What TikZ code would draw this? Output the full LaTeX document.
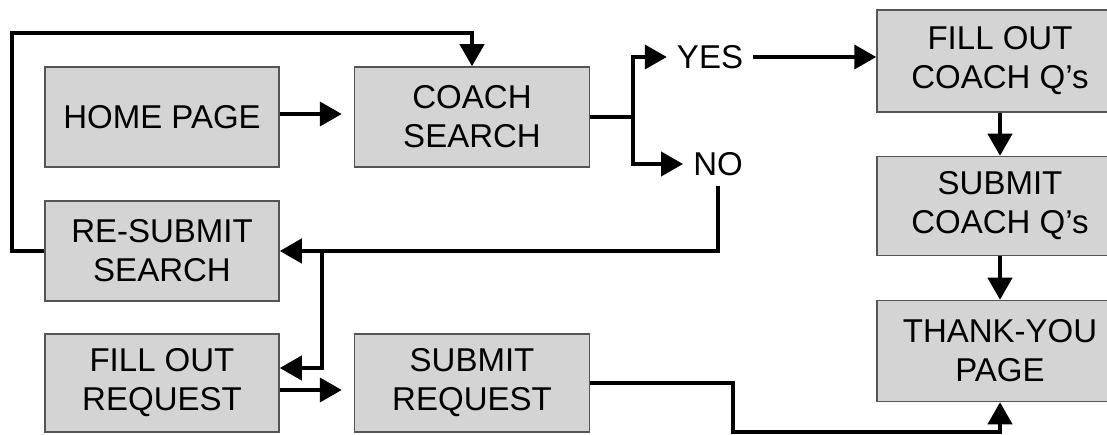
\documentclass[tikz,border=0pt]{standalone}
\usepackage{fontspec}
\setmainfont{Liberation Sans}
\usetikzlibrary{arrows.meta}
\definecolor{boxgray}{RGB}{212,212,212}
\definecolor{edgegray}{RGB}{85,85,85}
\begin{document}
\begin{tikzpicture}[x=1pt,y=-1pt,
  page/.style={draw=edgegray,line width=1.5pt,fill=boxgray,minimum height=100pt,
    inner sep=0pt,align=center,font=\fontsize{33}{39}\selectfont},
  answer/.style={inner sep=10pt,font=\fontsize{33}{39}\selectfont},
  wire/.style={line width=4pt},
  flow/.style={line width=4pt,-{Triangle[length=22pt,width=24pt]}}]
  \useasboundingbox (0,0) rectangle (1107,435);
  % pages of the site
  \node (home_page)       at (162,117)  [page,minimum width=234pt] {HOME PAGE};
  \node (coach_search)    at (472,117)  [page,minimum width=235pt] {COACH\\SEARCH};
  \node (resubmit_search) at (162,251)  [page,minimum width=234pt] {RE-SUBMIT\\SEARCH};
  \node (fill_request)    at (162,383)  [page,minimum width=234pt,minimum height=98pt] {FILL OUT\\REQUEST};
  \node (submit_request)  at (472,383)  [page,minimum width=235pt,minimum height=98pt] {SUBMIT\\REQUEST};
  \node (fill_coach)      at (1000,61)  [page,minimum width=246pt,minimum height=102pt] {FILL OUT\\COACH Q’s};
  \node (submit_coach)    at (1000,206) [page,minimum width=246pt,minimum height=99pt] {SUBMIT\\COACH Q’s};
  \node (thank_you)       at (1000,351) [page,minimum width=246pt,minimum height=101pt] {THANK-YOU\\PAGE};
  % search result
  \node (yes) at (710,57)  [answer] {YES};
  \node (no)  at (718,164) [answer] {NO};
  \coordinate (fork)          at (633,117);
  \coordinate (loop_corner)   at (12,33);
  \coordinate (branch)        at (322,251);
  \coordinate (bottom_corner) at (733,432);
  % connectors
  \draw[flow,shorten >=12pt] ([yshift=3pt]home_page.east) -- ([yshift=3pt]coach_search.west);
  \draw[flow] (resubmit_search.west) -| (loop_corner) -| (coach_search.north);
  \draw[wire] (coach_search.east) -- (fork);
  \draw[wire,{Triangle[length=22pt,width=24pt]}-{Triangle[length=22pt,width=24pt]}]
    (no.west) -| (fork) |- (yes.west);
  \draw[flow] (yes.east) -- (yes.east -| fill_coach.west);
  \draw[flow] (no.south) |- (resubmit_search.east);
  \draw[flow] (branch) |- ([yshift=15pt]fill_request.east);
  \draw[flow,shorten >=12pt] ([yshift=-7pt]fill_request.east) -- ([yshift=-7pt]submit_request.west);
  \draw[flow] (submit_request.east) -| (bottom_corner) -| (thank_you.south);
  \draw[flow] (fill_coach) -- (submit_coach);
  \draw[flow] (submit_coach) -- (thank_you);
\end{tikzpicture}
\end{document}
